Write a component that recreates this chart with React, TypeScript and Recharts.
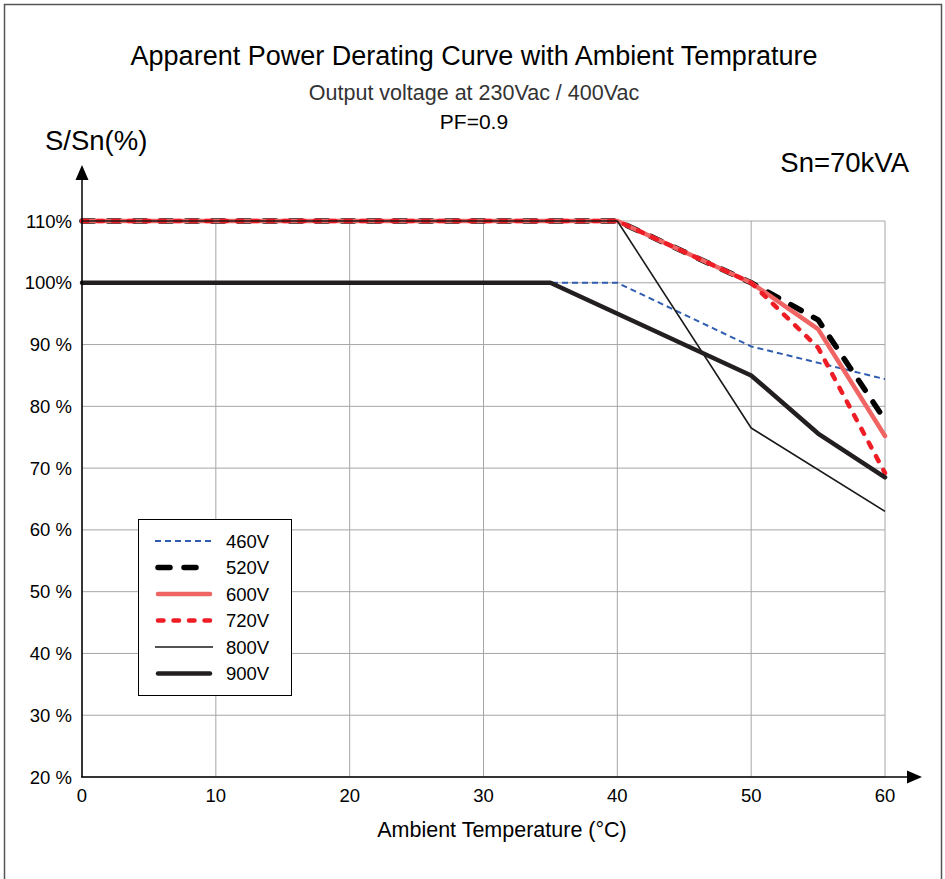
import React from "react";
import { LineChart, Line, XAxis, YAxis, CartesianGrid } from "recharts";

// ---- data ----
const xTicks = [0, 10, 20, 30, 40, 50, 60];
const yTicks = [20, 30, 40, 50, 60, 70, 80, 90, 100, 110];
const yTickLabels: Record<number, string> = {
  110: "110%",
  100: "100%",
  90: "90 %",
  80: "80 %",
  70: "70 %",
  60: "60 %",
  50: "50 %",
  40: "40 %",
  30: "30 %",
  20: "20 %",
};

const temps460 = [0, 40, 50, 60];
const vals460 = [100, 100, 89.7, 84.4];
const temps520 = [0, 40, 50, 55, 60];
const vals520 = [110, 110, 100, 94, 77.8];
const temps600 = [0, 40, 50, 55, 60];
const vals600 = [110, 110, 100, 92.5, 75.2];
const temps720 = [0, 40, 50, 55, 60];
const vals720 = [110, 110, 100, 89.5, 69.2];
const temps800 = [0, 40, 50, 60];
const vals800 = [110, 110, 76.5, 63];
const temps900 = [0, 35, 50, 55, 60];
const vals900 = [100, 100, 85, 75.6, 68.5];

const seriesNames = ["460V", "520V", "600V", "720V", "800V", "900V"];

const toRows = (t: number[], v: number[]) => t.map((x, i) => ({ t: x, v: v[i] }));

const styles: Record<string, { stroke: string; width: number; dash?: string; cap: "round" | "butt" }> = {
  "460V": { stroke: "#2F5DB0", width: 2, dash: "6 4", cap: "butt" },
  "520V": { stroke: "#000000", width: 5.5, dash: "12 14", cap: "round" },
  "600V": { stroke: "#F06464", width: 4.5, cap: "round" },
  "720V": { stroke: "#EE1C25", width: 4.5, dash: "5.5 10", cap: "round" },
  "800V": { stroke: "#1A1A1A", width: 1.6, cap: "butt" },
  "900V": { stroke: "#231F20", width: 4.5, cap: "round" },
};

const seriesData: Record<string, { t: number; v: number }[]> = {
  "460V": toRows(temps460, vals460),
  "520V": toRows(temps520, vals520),
  "600V": toRows(temps600, vals600),
  "720V": toRows(temps720, vals720),
  "800V": toRows(temps800, vals800),
  "900V": toRows(temps900, vals900),
};

const FONT = "'Liberation Sans', Arial, Helvetica, sans-serif";

export default function App() {
  return (
    <div style={{ position: "absolute", left: 0, top: 0, width: 945, height: 879, background: "#fff", fontFamily: FONT }}>
      <LineChart
        width={945}
        height={879}
        margin={{ top: 221, right: 60, bottom: 72, left: 0 }}
        style={{ position: "absolute", left: 0, top: 0 }}
      >
        <CartesianGrid stroke="#A6A6A6" strokeWidth={1} />
        <XAxis
          type="number"
          dataKey="t"
          domain={[0, 60]}
          ticks={xTicks}
          height={30}
          allowDuplicatedCategory={false}
          axisLine={false}
          tickLine={false}
          tickSize={0}
          tickMargin={12}
          tick={{ fill: "#000", fontSize: 18.5, fontFamily: FONT }}
          interval={0}
        />
        <YAxis
          type="number"
          domain={[20, 110]}
          ticks={yTicks}
          width={82}
          axisLine={false}
          tickLine={false}
          tickSize={0}
          tickMargin={10}
          tick={{ fill: "#000", fontSize: 18.5, fontFamily: FONT }}
          tickFormatter={(v: number) => yTickLabels[v] ?? String(v)}
          interval={0}
        />
        {seriesNames.map((n) => (
          <Line
            key={n}
            name={n}
            data={seriesData[n]}
            dataKey="v"
            type="linear"
            stroke={styles[n].stroke}
            strokeWidth={styles[n].width}
            strokeDasharray={styles[n].dash}
            strokeLinecap={styles[n].cap}
            strokeLinejoin="round"
            dot={false}
            activeDot={false}
            isAnimationActive={false}
          />
        ))}
      </LineChart>
      <svg
        width={945}
        height={879}
        style={{ position: "absolute", left: 0, top: 0, pointerEvents: "none" }}
      >
        {/* outer frame */}
        <rect x={4.5} y={4.5} width={937} height={880} fill="none" stroke="#555" strokeWidth={1.5} />
        {/* axes with arrows */}
        <line x1={82} y1={777} x2={82} y2={178} stroke="#000" strokeWidth={1.5} />
        <polygon points="82,165 75.5,180 88.5,180" fill="#000" />
        <line x1={81} y1={777} x2={910} y2={777} stroke="#000" strokeWidth={1.5} />
        <polygon points="922,777 907,770.5 907,783.5" fill="#000" />
        {/* titles */}
        <text x={474} y={64.5} textAnchor="middle" fontSize={27} fill="#000" fontFamily={FONT}>
          Apparent Power Derating Curve with Ambient Temprature
        </text>
        <text x={474} y={99.5} textAnchor="middle" fontSize={21.5} fill="#333" fontFamily={FONT}>
          Output voltage at 230Vac / 400Vac
        </text>
        <text x={474} y={128.5} textAnchor="middle" fontSize={21} fill="#000" fontFamily={FONT}>
          PF=0.9
        </text>
        <text x={45} y={150} fontSize={27.5} fill="#000" fontFamily={FONT}>
          S/Sn(%)
        </text>
        <text x={909} y={172} textAnchor="end" fontSize={27.5} fill="#000" fontFamily={FONT}>
          Sn=70kVA
        </text>
        <text x={502} y={836.5} textAnchor="middle" fontSize={21.5} fill="#000" fontFamily={FONT}>
          Ambient Temperature (°C)
        </text>
        {/* legend */}
        <rect x={138.5} y={519.5} width={153} height={176} fill="#fff" stroke="#000" strokeWidth={1} />
        {seriesNames.map((n, i) => {
          const y = 541 + i * 26.5;
          const s = styles[n];
          return (
            <g key={n}>
              <line
                x1={s.cap === "round" ? 158 : 155}
                x2={s.cap === "round" ? 210 : 213}
                y1={y}
                y2={y}
                stroke={s.stroke}
                strokeWidth={s.width}
                strokeDasharray={s.dash}
                strokeLinecap={s.cap}
              />
              <text x={226} y={y + 6.5} fontSize={18.5} fill="#000" fontFamily={FONT}>
                {n}
              </text>
            </g>
          );
        })}
      </svg>
    </div>
  );
}
